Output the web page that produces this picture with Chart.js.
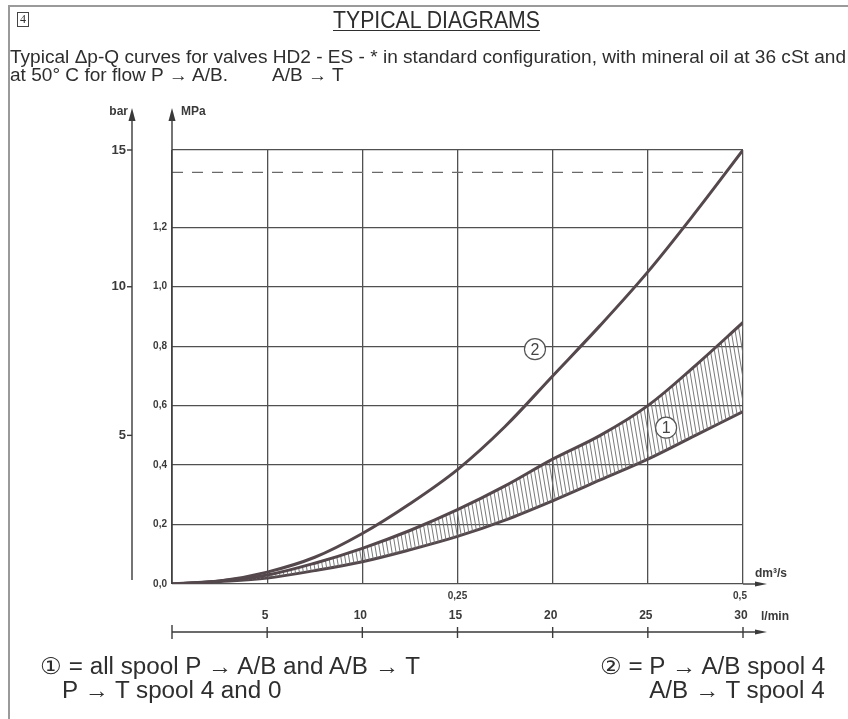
<!DOCTYPE html>
<html>
<head>
<meta charset="utf-8">
<script src="https://cdn.jsdelivr.net/npm/chart.js@4.4.0/dist/chart.umd.min.js"></script>
<style>
  html, body { margin: 0; padding: 0; background: #fff; }
  body { width: 848px; height: 719px; position: relative; overflow: hidden; }
  #chart { position: absolute; left: 0; top: 0; }
  .t {
    position: absolute; white-space: nowrap; line-height: 1; color: #2e2e2e;
    font-family: "Liberation Sans", Arial, sans-serif;
    transform-origin: 0 50%;
  }
  .r { transform-origin: 100% 50%; }
  #frame { position: absolute; left: 8px; top: 5px; width: 900px; height: 800px;
    border-left: 2px solid #9a9a9a; border-top: 2px solid #9a9a9a; }
  #num { left: 17px; top: 12px; width: 10px; height: 13px; border: 1px solid #444;
    font-size: 12px; text-align: center; font-family: "Liberation Serif", serif; }
  #title { left: 333px; top: 9px; font-size: 23px; text-decoration: underline; text-underline-offset: 2px; text-decoration-thickness: 1px; }
  #l1 { left: 10px; top: 49px; font-size: 17.5px; }
  #l2a { left: 10px; top: 67px; font-size: 17.5px; }
  #l2b { left: 272px; top: 67px; font-size: 17.5px; }
  #f1a { left: 40px; top: 655px; font-size: 23px; }
  #f1b { left: 62px; top: 679px; font-size: 23px; }
  #f2a { right: 23px; top: 655px; font-size: 23px; }
  #f2b { right: 23px; top: 679px; font-size: 23px; }
</style>
</head>
<body>
<canvas id="chart" width="848" height="719"></canvas>
<div id="frame"></div>
<div class="t" id="num">4</div>
<div class="t" id="title" data-w="207">TYPICAL DIAGRAMS</div>
<div class="t" id="l1" data-w="836">Typical Δp-Q curves for valves HD2 - ES - * in standard configuration, with mineral oil at 36 cSt and</div>
<div class="t" id="l2a" data-like="l1">at 50° C for flow P → A/B.</div>
<div class="t" id="l2b" data-like="l1">A/B → T</div>
<div class="t" id="f1a" data-w="380">① = all spool P → A/B and A/B → T</div>
<div class="t" id="f1b" data-like="f1a">P → T spool 4 and 0</div>
<div class="t r" id="f2a" data-like="f1a">② = P → A/B spool 4</div>
<div class="t r" id="f2b" data-like="f1a">A/B → T spool 4</div>
<script>
// flow in l/min and pressure drop in MPa
const flow        = [0, 2.5, 5, 7.5, 10, 12.5, 15, 17.5, 20, 22.5, 25, 27.5, 30];
const curve2      = [0, 0.01, 0.04, 0.09, 0.17, 0.27, 0.385, 0.53, 0.70, 0.87, 1.05, 1.25, 1.46];
const curve1Upper = [0, 0.01, 0.03, 0.07, 0.12, 0.18, 0.25, 0.33, 0.42, 0.50, 0.60, 0.735, 0.88];
const curve1Lower = [0, 0.008, 0.02, 0.045, 0.075, 0.115, 0.16, 0.215, 0.28, 0.35, 0.42, 0.50, 0.58];
const limitLine   = 1.385;

// axes
const mpaTicks      = [0, 0.2, 0.4, 0.6, 0.8, 1.0, 1.2];
const mpaMax        = 1.46;
const barTicks      = [5, 10, 14.6];
const barTickLabels = ['5', '10', '15'];
const barMax        = 14.6;
const flowTicks     = [5, 10, 15, 20, 25, 30];
const dmTicks       = [15, 30];
const dmTickLabels  = ['0,25', '0,5'];

// curve labels (flow, MPa)
const curveLabels = [
  { text: '1', x: 25.96, y: 0.526 },
  { text: '2', x: 19.07, y: 0.79 }
];

const ink = '#3a3a3a';
const curveColor = '#54484d';
const gridColor = '#505050';
const tickFont = 'bold 10px "Liberation Sans", Arial, sans-serif';
const axisFont = 'bold 12px "Liberation Sans", Arial, sans-serif';

// hatch for the band of curve 1
function makeHatch() {
  const c = document.createElement('canvas');
  c.width = 4; c.height = 24;
  const g = c.getContext('2d');
  g.strokeStyle = '#6a6a6a';
  g.lineWidth = 0.9;
  for (const dx of [-4, 0, 4]) {
    g.beginPath();
    g.moveTo(dx, 0);
    g.lineTo(dx + 4, 24);
    g.stroke();
  }
  return g.createPattern(c, 'repeat');
}

const toXY = arr => arr.map((v, i) => ({ x: flow[i], y: v }));

function arrowUp(ctx, x, y) {
  ctx.beginPath();
  ctx.moveTo(x, y);
  ctx.lineTo(x - 3.5, y + 13);
  ctx.lineTo(x + 3.5, y + 13);
  ctx.closePath();
  ctx.fill();
}
function arrowRight(ctx, x, y) {
  ctx.beginPath();
  ctx.moveTo(x, y);
  ctx.lineTo(x - 12, y - 2.5);
  ctx.lineTo(x - 12, y + 2.5);
  ctx.closePath();
  ctx.fill();
}

const decorations = {
  id: 'decorations',
  afterDraw(chart) {
    const { ctx, chartArea: a, scales } = chart;
    const x = scales.x, y = scales.y, bar = scales.bar;
    ctx.save();
    ctx.strokeStyle = ink;
    ctx.fillStyle = ink;
    ctx.lineWidth = 1.4;

    // MPa axis
    ctx.beginPath(); ctx.moveTo(a.left, a.bottom); ctx.lineTo(a.left, a.top - 36); ctx.stroke();
    arrowUp(ctx, a.left, a.top - 42);
    ctx.font = axisFont; ctx.textAlign = 'left'; ctx.textBaseline = 'middle';
    ctx.fillText('MPa', a.left + 9, a.top - 38);

    ctx.font = tickFont; ctx.textAlign = 'right';
    mpaTicks.forEach(v => {
      ctx.fillText(v.toFixed(1).replace('.', ','), a.left - 5, y.getPixelForValue(v));
    });

    // bar axis
    const bx = a.left - 40;
    ctx.beginPath(); ctx.moveTo(bx, a.bottom - 4); ctx.lineTo(bx, a.top - 36); ctx.stroke();
    arrowUp(ctx, bx, a.top - 42);
    ctx.font = axisFont; ctx.textAlign = 'right';
    ctx.fillText('bar', bx - 4, a.top - 38);
    ctx.font = 'bold 13px "Liberation Sans", Arial, sans-serif';
    barTicks.forEach((v, i) => {
      const py = bar.getPixelForValue(v);
      ctx.beginPath(); ctx.moveTo(bx - 5, py); ctx.lineTo(bx, py); ctx.stroke();
      ctx.fillText(barTickLabels[i], bx - 6, py);
    });

    // flow axis in dm3/s along the chart bottom
    ctx.beginPath(); ctx.moveTo(a.right, a.bottom); ctx.lineTo(a.right + 14, a.bottom); ctx.stroke();
    arrowRight(ctx, a.right + 24, a.bottom);
    ctx.font = axisFont; ctx.textAlign = 'left';
    ctx.fillText('dm³/s', a.right + 12, a.bottom - 10);
    ctx.font = tickFont; ctx.textAlign = 'center';
    dmTicks.forEach((v, i) => {
      ctx.fillText(dmTickLabels[i], x.getPixelForValue(v) - (i === dmTicks.length - 1 ? 3 : 0), a.bottom + 12);
    });

    // flow axis in l/min below
    const ly = a.bottom + 48;
    ctx.beginPath(); ctx.moveTo(a.left, ly); ctx.lineTo(a.right + 14, ly); ctx.stroke();
    arrowRight(ctx, a.right + 24, ly);
    ctx.beginPath(); ctx.moveTo(a.left, ly - 7); ctx.lineTo(a.left, ly + 7); ctx.stroke();
    ctx.font = axisFont;
    flowTicks.forEach(v => {
      const px = x.getPixelForValue(v);
      ctx.beginPath(); ctx.moveTo(px, ly - 5); ctx.lineTo(px, ly + 6); ctx.stroke();
      ctx.fillText(String(v), px - 2, ly - 16);
    });
    ctx.textAlign = 'left';
    ctx.fillText('l/min', a.right + 18, ly - 15);

    // circled curve numbers
    curveLabels.forEach(l => {
      const px = x.getPixelForValue(l.x), py = y.getPixelForValue(l.y);
      ctx.beginPath(); ctx.arc(px, py, 10.5, 0, Math.PI * 2);
      ctx.fillStyle = '#fff'; ctx.fill();
      ctx.lineWidth = 1.2; ctx.strokeStyle = '#555'; ctx.stroke();
      ctx.fillStyle = '#444';
      ctx.font = '16px "Liberation Sans", Arial, sans-serif';
      ctx.textAlign = 'center';
      ctx.fillText(l.text, px, py + 1);
    });
    ctx.restore();
  }
};

const lineStyle = {
  borderColor: curveColor,
  borderWidth: 3,
  pointRadius: 0,
  tension: 0.35,
  fill: false
};

new Chart(document.getElementById('chart'), {
  type: 'line',
  data: {
    datasets: [
      { ...lineStyle, label: '2', data: toXY(curve2) },
      { ...lineStyle, label: '1 upper', data: toXY(curve1Upper), fill: '+1', backgroundColor: makeHatch() },
      { ...lineStyle, label: '1 lower', data: toXY(curve1Lower) },
      {
        label: 'limit',
        data: [{ x: 0, y: limitLine }, { x: 30, y: limitLine }],
        borderColor: '#6a6a6a', borderWidth: 1.3, borderDash: [11, 9],
        pointRadius: 0, fill: false
      }
    ]
  },
  options: {
    responsive: false,
    animation: false,
    layout: { padding: { left: 172, top: 150, right: 105, bottom: 135 } },
    plugins: { legend: { display: false }, tooltip: { enabled: false } },
    scales: {
      x: {
        type: 'linear', min: 0, max: 30,
        ticks: { stepSize: 5, display: false },
        grid: { color: gridColor, lineWidth: 1.3, drawTicks: false },
        border: { display: false }
      },
      y: {
        type: 'linear', min: 0, max: mpaMax,
        afterBuildTicks: s => { s.ticks = [...mpaTicks, mpaMax].map(v => ({ value: v })); },
        ticks: { display: false },
        grid: { color: gridColor, lineWidth: 1.3, drawTicks: false },
        border: { display: false }
      },
      bar: {
        type: 'linear', position: 'left', min: 0, max: barMax, display: false
      }
    }
  },
  plugins: [decorations]
});

// squeeze text lines to the widths they have in the drawing;
// lines of one block share the squeeze of their first line
const squeeze = {};
document.querySelectorAll('.t[data-w]').forEach(el => {
  const w = el.getBoundingClientRect().width;
  squeeze[el.id] = Number(el.dataset.w) / w;
  el.style.transform = 'scaleX(' + squeeze[el.id] + ')';
});
document.querySelectorAll('.t[data-like]').forEach(el => {
  el.style.transform = 'scaleX(' + squeeze[el.dataset.like] + ')';
});
</script>
</body>
</html>
